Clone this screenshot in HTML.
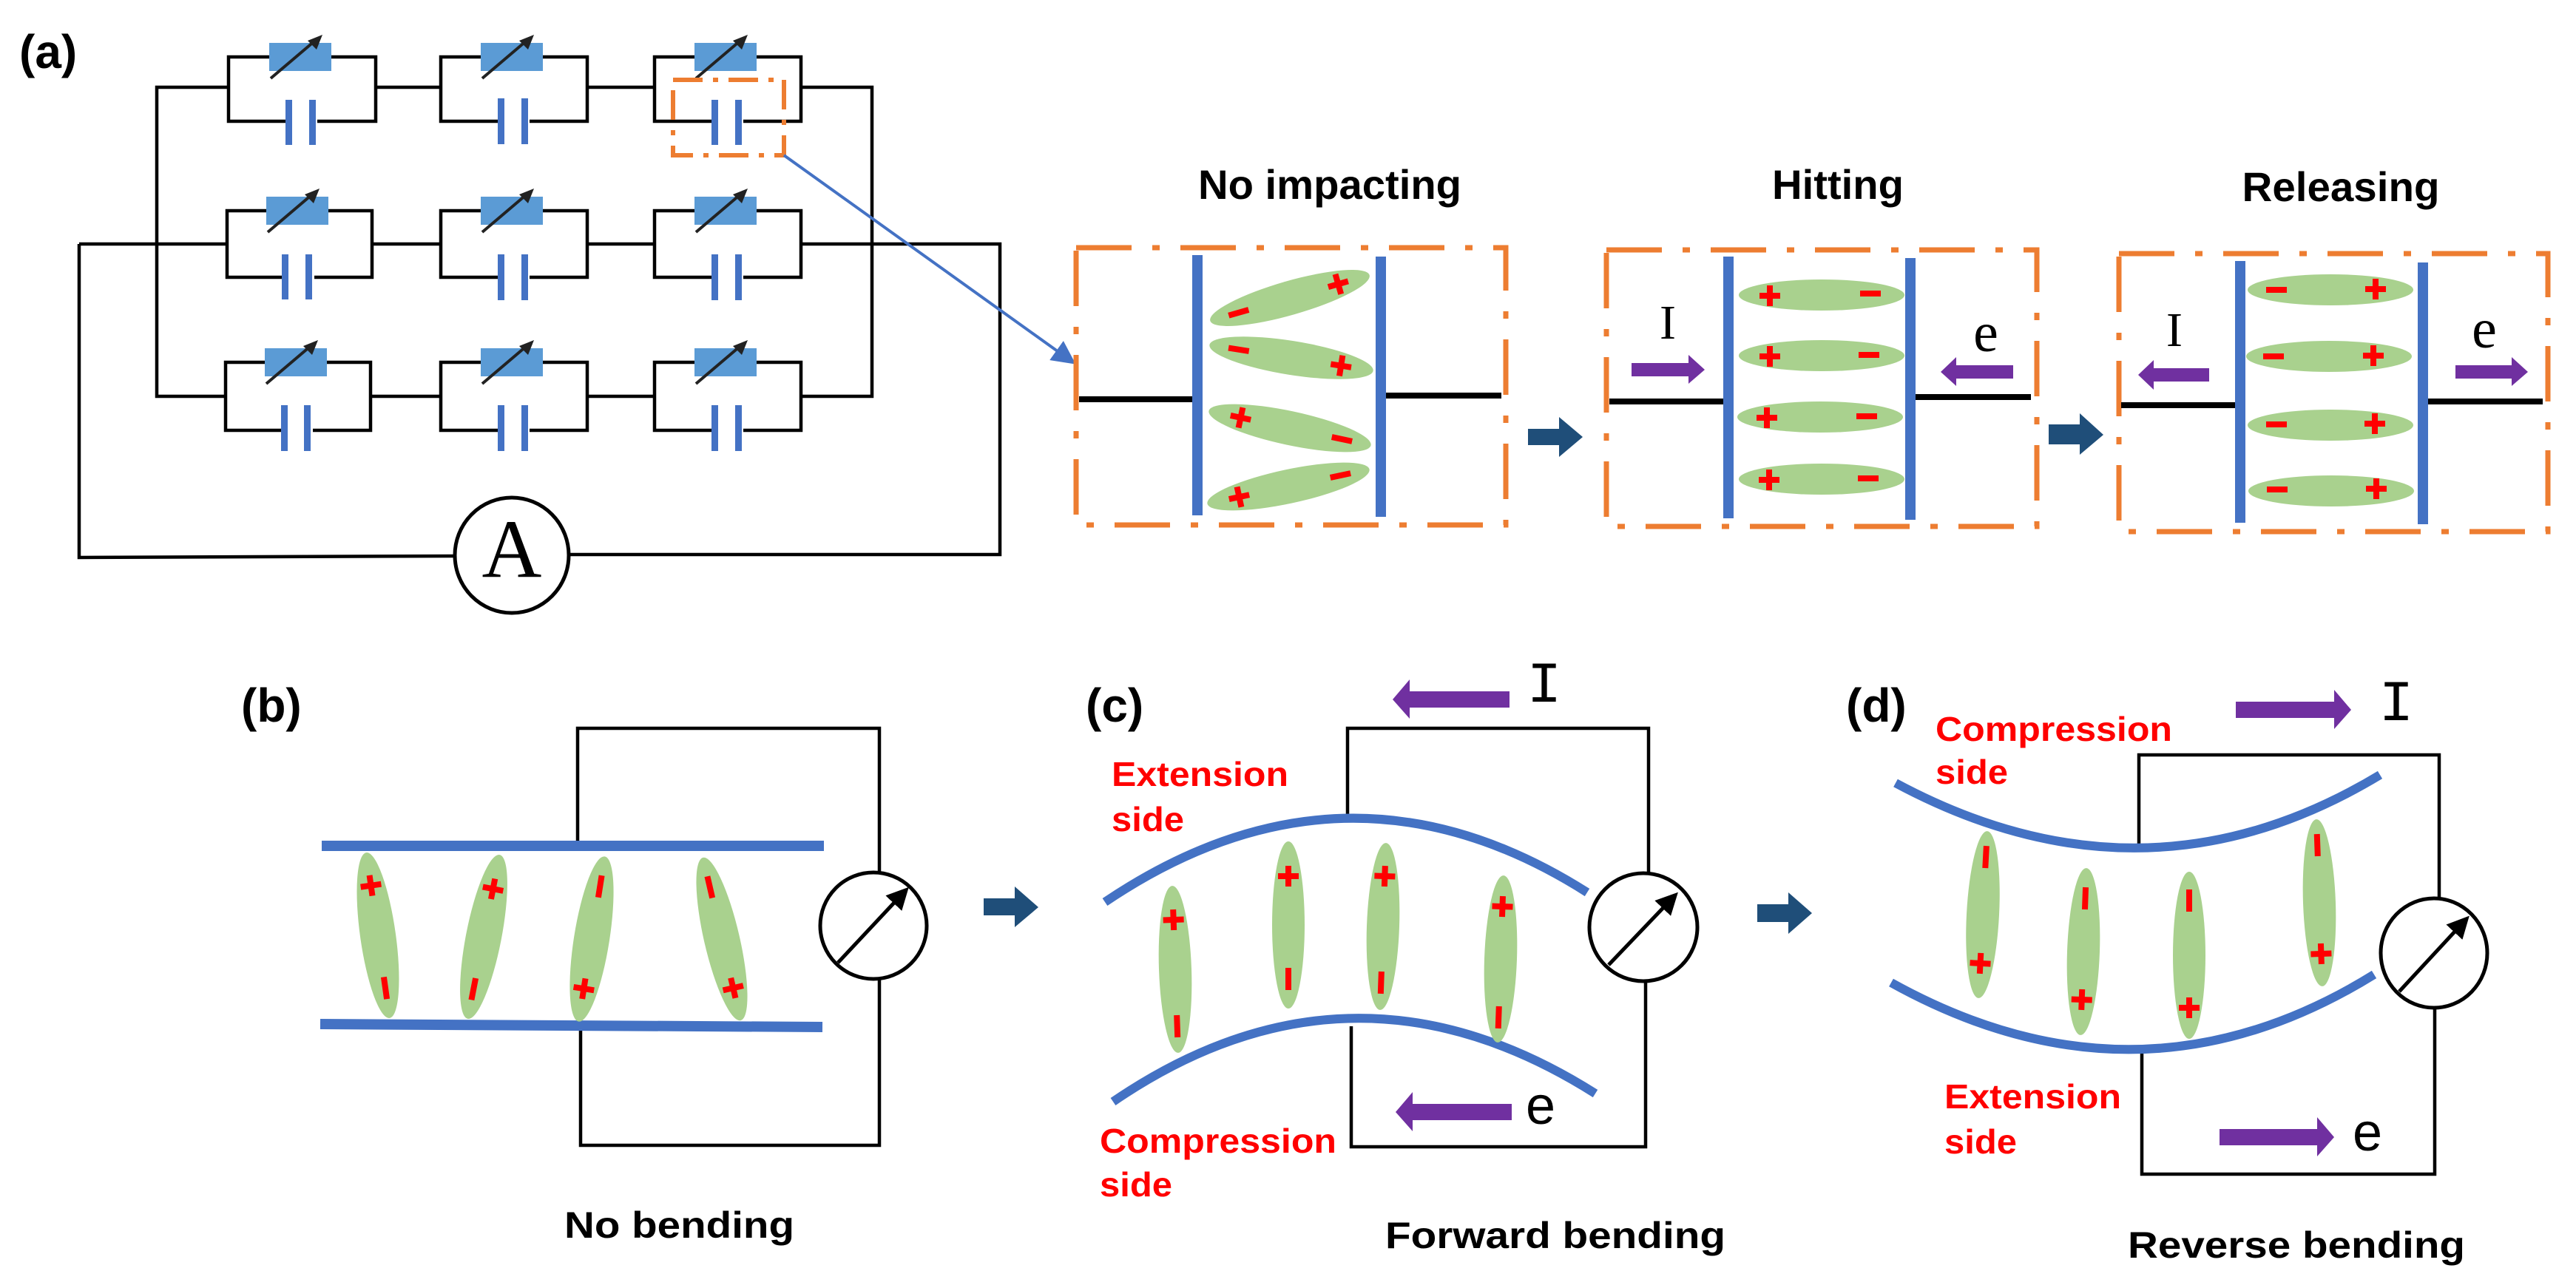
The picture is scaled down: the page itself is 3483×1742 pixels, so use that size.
<!DOCTYPE html>
<html><head><meta charset="utf-8"><style>html,body{margin:0;padding:0;background:#fff}svg{display:block}</style></head>
<body>
<svg xmlns="http://www.w3.org/2000/svg" width="3483" height="1742" viewBox="0 0 3483 1742">
<defs>
<g id="plus"><rect x="-14" y="-4" width="28" height="8" fill="#ff0000"/><rect x="-4" y="-14" width="8" height="28" fill="#ff0000"/></g>
<g id="minus"><rect x="-14" y="-4" width="28" height="8" fill="#ff0000"/></g>
<g id="vminus"><rect x="-4" y="-15" width="8" height="30" fill="#ff0000"/></g>
<g id="res"><rect x="-42" y="-19" width="84" height="38" fill="#5b9bd5"/><line x1="-40" y1="29" x2="20" y2="-22" stroke="#222" stroke-width="4"/><polygon points="30,-30 10,-22 22,-10" fill="#222"/></g>
<marker id="ah" markerWidth="8" markerHeight="8" refX="6" refY="4" orient="auto" markerUnits="strokeWidth"><path d="M0,0 L8,4 L0,8 z" fill="#4472c4"/></marker>
<marker id="mh" markerWidth="6" markerHeight="6" refX="4" refY="3" orient="auto" markerUnits="strokeWidth"><path d="M0,0 L6,3 L0,6 z" fill="#000"/></marker>
</defs>

<g font-family="Liberation Sans, Arial, sans-serif" font-weight="bold" fill="#000">
<text x="26" y="92" font-size="64">(a)</text>
<text x="326" y="976" font-size="64">(b)</text>
<text x="1468" y="976" font-size="64">(c)</text>
<text x="2496" y="976" font-size="64">(d)</text>
<text x="1798" y="269" font-size="56" text-anchor="middle" textLength="356" lengthAdjust="spacingAndGlyphs">No impacting</text>
<text x="2485" y="269" font-size="56" text-anchor="middle" textLength="178" lengthAdjust="spacingAndGlyphs">Hitting</text>
<text x="3165" y="272" font-size="56" text-anchor="middle" textLength="267" lengthAdjust="spacingAndGlyphs">Releasing</text>
<text x="763" y="1674" font-size="50" textLength="311" lengthAdjust="spacingAndGlyphs">No bending</text>
<text x="1873" y="1688" font-size="50" textLength="460" lengthAdjust="spacingAndGlyphs">Forward bending</text>
<text x="2877" y="1701" font-size="50" textLength="456" lengthAdjust="spacingAndGlyphs">Reverse bending</text>
</g>
<g font-family="Liberation Sans, Arial, sans-serif" font-weight="bold" fill="#ff0000" font-size="46">
<text x="1503" y="1063" textLength="239" lengthAdjust="spacingAndGlyphs">Extension</text>
<text x="1503" y="1124" textLength="98" lengthAdjust="spacingAndGlyphs">side</text>
<text x="1487" y="1559" textLength="320" lengthAdjust="spacingAndGlyphs">Compression</text>
<text x="1487" y="1618" textLength="98" lengthAdjust="spacingAndGlyphs">side</text>
<text x="2617" y="1002" textLength="320" lengthAdjust="spacingAndGlyphs">Compression</text>
<text x="2617" y="1060" textLength="98" lengthAdjust="spacingAndGlyphs">side</text>
<text x="2629" y="1499" textLength="239" lengthAdjust="spacingAndGlyphs">Extension</text>
<text x="2629" y="1560" textLength="98" lengthAdjust="spacingAndGlyphs">side</text>
</g>

<!-- (a) circuit -->
<g stroke="#000" stroke-width="4.5" fill="none">
<!-- row blocks -->
<rect x="309" y="77" width="199" height="87"/><rect x="596" y="77" width="198" height="87"/><rect x="885" y="77" width="198" height="87"/>
<rect x="307" y="285" width="196" height="90"/><rect x="596" y="285" width="198" height="90"/><rect x="885" y="285" width="198" height="90"/>
<rect x="305" y="490" width="196" height="92"/><rect x="596" y="490" width="198" height="92"/><rect x="885" y="490" width="198" height="92"/>
<!-- series links -->
<line x1="508" y1="118" x2="596" y2="118"/><line x1="794" y1="118" x2="885" y2="118"/>
<line x1="503" y1="330" x2="596" y2="330"/><line x1="794" y1="330" x2="885" y2="330"/>
<line x1="501" y1="536" x2="596" y2="536"/><line x1="794" y1="536" x2="885" y2="536"/>
<!-- buses -->
<polyline points="309,118 212,118 212,536 305,536"/>
<polyline points="1083,118 1179,118 1179,536 1083,536"/>
<polyline points="107,330 307,330"/>
<polyline points="1083,330 1352,330 1352,750 770,750"/>
<polyline points="107,330 107,754 614,752"/>
<ellipse cx="692" cy="751" rx="77" ry="78" stroke-width="5"/>
</g>
<text x="692" y="780" font-family="Liberation Serif, serif" font-size="112" text-anchor="middle">A</text>
<!-- white gaps for capacitors & resistors -->
<g fill="#fff">
<rect x="389" y="155" width="40" height="18"/><rect x="676" y="155" width="40" height="18"/><rect x="965" y="155" width="40" height="18"/>
<rect x="385" y="366" width="40" height="18"/><rect x="676" y="366" width="40" height="18"/><rect x="965" y="366" width="40" height="18"/>
<rect x="383" y="573" width="40" height="18"/><rect x="676" y="573" width="40" height="18"/><rect x="965" y="573" width="40" height="18"/>
</g>
<g fill="#4472c4">
<rect x="386" y="135" width="9" height="61"/><rect x="418" y="135" width="9" height="61"/>
<rect x="673" y="133" width="9" height="62"/><rect x="705" y="133" width="9" height="62"/>
<rect x="962" y="135" width="9" height="61"/><rect x="994" y="135" width="9" height="61"/>
<rect x="381" y="344" width="9" height="61"/><rect x="413" y="344" width="9" height="61"/>
<rect x="673" y="344" width="9" height="62"/><rect x="705" y="344" width="9" height="62"/>
<rect x="962" y="344" width="9" height="62"/><rect x="994" y="344" width="9" height="62"/>
<rect x="380" y="548" width="9" height="62"/><rect x="411" y="548" width="9" height="62"/>
<rect x="673" y="548" width="9" height="62"/><rect x="705" y="548" width="9" height="62"/>
<rect x="962" y="548" width="9" height="62"/><rect x="994" y="548" width="9" height="62"/>
</g>
<use href="#res" x="406" y="77"/><use href="#res" x="692" y="77"/><use href="#res" x="981" y="77"/>
<use href="#res" x="402" y="285"/><use href="#res" x="692" y="285"/><use href="#res" x="981" y="285"/>
<use href="#res" x="400" y="490"/><use href="#res" x="692" y="490"/><use href="#res" x="981" y="490"/>
<rect x="910" y="108" width="150" height="102" fill="none" stroke="#ed7d31" stroke-width="6" stroke-dasharray="40,14,7,14"/>
<line x1="1060" y1="210" x2="1448" y2="488" stroke="#4472c4" stroke-width="4" marker-end="url(#ah)"/>

<!-- orange boxes -->
<g fill="none" stroke="#ed7d31" stroke-width="7" stroke-dasharray="75,28,10,28">
<rect x="1455" y="335" width="581" height="375"/>
<rect x="2172" y="338" width="582" height="374"/>
<rect x="2865" y="343" width="580" height="376"/>
</g>
<!-- wires in boxes -->
<g stroke="#000" stroke-width="8">
<line x1="1459" y1="540" x2="1613" y2="540"/><line x1="1873" y1="535" x2="2030" y2="535"/>
<line x1="2176" y1="543" x2="2333" y2="543"/><line x1="2590" y1="537" x2="2746" y2="537"/>
<line x1="2868" y1="548" x2="3022" y2="548"/><line x1="3283" y1="543" x2="3438" y2="543"/>
</g>
<g fill="#4472c4">
<rect x="1612" y="345" width="14" height="352"/><rect x="1860" y="347" width="14" height="352"/>
<rect x="2330" y="347" width="14" height="354"/><rect x="2576" y="349" width="14" height="354"/>
<rect x="3022" y="353" width="14" height="354"/><rect x="3269" y="355" width="14" height="354"/>
</g>
<!-- NI ellipses -->
<g transform="translate(1744,403) rotate(-16)"><ellipse rx="112" ry="23" fill="#a9d18e"/><use href="#minus" x="-72"/><use href="#plus" x="68"/></g>
<g transform="translate(1746,484) rotate(9)"><ellipse rx="112" ry="23" fill="#a9d18e"/><use href="#minus" x="-72"/><use href="#plus" x="68"/></g>
<g transform="translate(1744,579) rotate(12)"><ellipse rx="112" ry="23" fill="#a9d18e"/><use href="#plus" x="-68"/><use href="#minus" x="72"/></g>
<g transform="translate(1742,658) rotate(-12)"><ellipse rx="112" ry="23" fill="#a9d18e"/><use href="#plus" x="-68"/><use href="#minus" x="72"/></g>
<!-- Hitting ellipses -->
<g fill="#a9d18e"><ellipse cx="2463" cy="399" rx="112" ry="21"/><ellipse cx="2463" cy="481" rx="112" ry="21"/><ellipse cx="2461" cy="564" rx="112" ry="21"/><ellipse cx="2463" cy="648" rx="112" ry="21"/>
<ellipse cx="3151" cy="392" rx="112" ry="21"/><ellipse cx="3149" cy="482" rx="112" ry="21"/><ellipse cx="3151" cy="575" rx="112" ry="21"/><ellipse cx="3152" cy="664" rx="112" ry="21"/></g>
<use href="#plus" x="2393" y="400"/><use href="#minus" x="2529" y="397"/>
<use href="#plus" x="2393" y="482"/><use href="#minus" x="2527" y="480"/>
<use href="#plus" x="2389" y="565"/><use href="#minus" x="2524" y="563"/>
<use href="#plus" x="2392" y="649"/><use href="#minus" x="2526" y="647"/>
<use href="#minus" x="3078" y="392"/><use href="#plus" x="3212" y="391"/>
<use href="#minus" x="3074" y="482"/><use href="#plus" x="3209" y="481"/>
<use href="#minus" x="3078" y="574"/><use href="#plus" x="3211" y="573"/>
<use href="#minus" x="3079" y="662"/><use href="#plus" x="3213" y="661"/>

<!-- navy arrows -->
<g fill="#1f4e79">
<path d="M2066,580 H2108 V564 L2140,591 L2108,618 V602 H2066 Z"/>
<path d="M2770,574 H2812 V559 L2844,588 L2812,615 V601 H2770 Z"/>
<path d="M1330,1215 H1372 V1199 L1404,1227 L1372,1254 V1238 H1330 Z"/>
<path d="M2376,1223 H2418 V1207 L2450,1235 L2418,1263 V1247 H2376 Z"/>
</g>
<!-- purple arrows -->
<g fill="#7030a0">
<path d="M2206,491 H2283 V480 L2305,500 L2283,519 V509 H2206 Z"/>
<path d="M2722,494 H2645 V483 L2624,503 L2645,522 V512 H2722 Z"/>
<path d="M2987,498 H2912 V487 L2891,507 L2912,527 V516 H2987 Z"/>
<path d="M3320,494 H3396 V483 L3418,503 L3396,522 V512 H3320 Z"/>
<path d="M2041,935 H1906 V919 L1883,946 L1906,972 V957 H2041 Z"/>
<path d="M2044,1493 H1910 V1477 L1887,1504 L1910,1530 V1515 H2044 Z"/>
<path d="M3023,949 H3156 V933 L3179,960 L3156,986 V971 H3023 Z"/>
<path d="M3001,1527 H3133 V1511 L3156,1538 L3133,1564 V1549 H3001 Z"/>
</g>
<g font-family="Liberation Serif, serif" fill="#000">
<text x="2255" y="458" font-size="66" text-anchor="middle">I</text>
<text x="2685" y="475" font-size="76" text-anchor="middle">e</text>
<text x="2940" y="468" font-size="66" text-anchor="middle">I</text>
<text x="3359" y="470" font-size="76" text-anchor="middle">e</text>
</g>
<g font-family="Liberation Mono, monospace" fill="#000">
<text x="2088" y="949" font-size="78" text-anchor="middle">I</text>
<text x="3240" y="974" font-size="78" text-anchor="middle">I</text>
</g>
<g font-family="Liberation Sans, sans-serif" fill="#000">
<text x="2083" y="1520" font-size="72" text-anchor="middle">e</text>
<text x="3201" y="1556" font-size="72" text-anchor="middle">e</text>
</g>

<!-- (b) -->
<g stroke="#000" stroke-width="4.5" fill="none">
<polyline points="781,1144 781,985 1189,985 1189,1180"/>
<polyline points="785,1389 785,1549 1189,1549 1189,1324"/>
<circle cx="1181" cy="1252" r="72" stroke-width="5"/>
<line x1="1133" y1="1302" x2="1222" y2="1207" stroke-width="5" marker-end="url(#mh)"/>
</g>
<g stroke="#4472c4" stroke-width="14"><line x1="435" y1="1144" x2="1114" y2="1144"/><line x1="433" y1="1385" x2="1112" y2="1389"/></g>
<g transform="translate(511,1265) rotate(-8)"><ellipse rx="24" ry="113" fill="#a9d18e"/><use href="#plus" y="-68"/><use href="#vminus" y="72"/></g>
<g transform="translate(654,1267) rotate(11)"><ellipse rx="24" ry="113" fill="#a9d18e"/><use href="#plus" y="-66"/><use href="#vminus" y="72"/></g>
<g transform="translate(800,1270) rotate(9)"><ellipse rx="24" ry="113" fill="#a9d18e"/><use href="#vminus" y="-72"/><use href="#plus" y="68"/></g>
<g transform="translate(976,1270) rotate(-13)"><ellipse rx="24" ry="113" fill="#a9d18e"/><use href="#vminus" y="-72"/><use href="#plus" y="68"/></g>

<!-- (c) -->
<g stroke="#000" stroke-width="4.5" fill="none">
<polyline points="1822,1112 1822,985 2229,985 2229,1180"/>
<polyline points="1827,1388 1827,1551 2225,1551 2225,1329"/>
<circle cx="2222" cy="1254" r="73" stroke-width="5"/>
<line x1="2175" y1="1305" x2="2262" y2="1214" stroke-width="5" marker-end="url(#mh)"/>
</g>
<g stroke="#4472c4" stroke-width="12" fill="none">
<path d="M1494,1220 Q1820,1000 2146,1207"/>
<path d="M1505,1490 Q1827,1270 2157,1479"/>
</g>
<g transform="translate(1589,1311) rotate(-2)"><ellipse rx="22" ry="113" fill="#a9d18e"/><use href="#plus" y="-67"/><use href="#vminus" y="77"/></g>
<g transform="translate(1742,1251) rotate(0)"><ellipse rx="22" ry="113" fill="#a9d18e"/><use href="#plus" y="-66"/><use href="#vminus" y="73"/></g>
<g transform="translate(1870,1253) rotate(2)"><ellipse rx="22" ry="113" fill="#a9d18e"/><use href="#plus" y="-68"/><use href="#vminus" y="76"/></g>
<g transform="translate(2029,1297) rotate(2)"><ellipse rx="22" ry="113" fill="#a9d18e"/><use href="#plus" y="-71"/><use href="#vminus" y="79"/></g>

<!-- (d) -->
<g stroke="#000" stroke-width="4.5" fill="none">
<polyline points="2892,1146 2892,1021 3298,1021 3298,1216"/>
<polyline points="2896,1424 2896,1588 3292,1588 3292,1362"/>
<ellipse cx="3291" cy="1289" rx="72" ry="74" stroke-width="5"/>
<line x1="3244" y1="1341" x2="3332" y2="1246" stroke-width="5" marker-end="url(#mh)"/>
</g>
<g stroke="#4472c4" stroke-width="12" fill="none">
<path d="M2563,1059 Q2900,1240 3218,1048"/>
<path d="M2557,1329 Q2892,1515 3210,1318"/>
</g>
<g transform="translate(2681,1237) rotate(3)"><ellipse rx="22" ry="113" fill="#a9d18e"/><use href="#vminus" y="-78"/><use href="#plus" y="66"/></g>
<g transform="translate(2817,1287) rotate(2)"><ellipse rx="22" ry="113" fill="#a9d18e"/><use href="#vminus" y="-72"/><use href="#plus" y="65"/></g>
<g transform="translate(2960,1292) rotate(0)"><ellipse rx="22" ry="113" fill="#a9d18e"/><use href="#vminus" y="-74"/><use href="#plus" y="71"/></g>
<g transform="translate(3136,1221) rotate(-2)"><ellipse rx="22" ry="113" fill="#a9d18e"/><use href="#vminus" y="-78"/><use href="#plus" y="69"/></g>
</svg>
</body></html>
